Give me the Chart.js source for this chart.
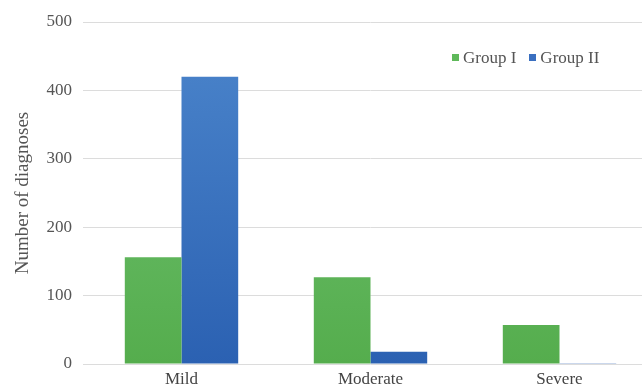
<!DOCTYPE html>
<html lang="en">
<head>
  <meta charset="UTF-8" />
  <title>Number of diagnoses</title>
  <script src="https://cdn.jsdelivr.net/npm/chart.js"></script>
  <style>
    html, body { margin: 0; padding: 0; background: #fff; overflow: hidden; }
    .wrap { position: relative; width: 656px; height: 390px; }
    .legend { position: absolute; left: 452px; top: 48px; font-family: "Liberation Serif", serif; font-size: 17px; color: #555; white-space: nowrap; }
    .legend span.box { display: inline-block; width: 7px; height: 7px; margin-right: 4px; vertical-align: 2px; }
    .legend .item { margin-right: 13px; }
  </style>
</head>
<body>

<div class="wrap">
  <canvas id="chart"></canvas>
  <div class="legend">
    <span class="item"><span class="box" style="background:#5fb95a"></span>Group I</span><span class="item"><span class="box" style="background:#3a6fc0"></span>Group II</span>
  </div>
</div>

<script>
  const categories = ["Mild", "Moderate", "Severe"];
  const group1 = [156, 127, 57];
  const group2 = [420, 18, 1];
  const yTicks = [0, 100, 200, 300, 400, 500];

  function grad(ctx, top, bottom) {
    const area = ctx.chart.chartArea;
    if (!area) return bottom;
    const g = ctx.chart.ctx.createLinearGradient(0, area.top, 0, area.bottom);
    g.addColorStop(0, top);
    g.addColorStop(1, bottom);
    return g;
  }

  const font = { family: "'Liberation Serif', serif", size: 17 };

  new Chart(document.getElementById("chart"), {
    type: "bar",
    data: {
      labels: categories,
      datasets: [
        {
          label: "Group I",
          data: group1,
          backgroundColor: ctx => grad(ctx, "#72c476", "#55ad4d"),
          categoryPercentage: 0.6,
          barPercentage: 1
        },
        {
          label: "Group II",
          data: group2,
          backgroundColor: ctx => grad(ctx, "#4c86cc", "#2b61b2"),
          categoryPercentage: 0.6,
          barPercentage: 1
        }
      ]
    },
    options: {
      responsive: true,
      maintainAspectRatio: false,
      animation: false,
      layout: { padding: { top: 22, right: 2, left: 0, bottom: 0 } },
      plugins: { legend: { display: false }, tooltip: { enabled: false } },
      scales: {
        x: {
          grid: { display: false, tickLength: 0 },
          border: { display: false },
          ticks: { font, color: "#444", padding: 5 },
          afterFit: s => { s.height = 26; }
        },
        y: {
          min: 0,
          max: 500,
          afterBuildTicks: s => { s.ticks = yTicks.map(v => ({ value: v })); },
          grid: { color: "#dcdcdc", tickLength: 4 },
          border: { display: false },
          ticks: { font, color: "#555", padding: 11 },
          title: { display: true, text: "Number of diagnoses", font: { family: "'Liberation Serif', serif", size: 19 }, color: "#555", padding: { top: 12, bottom: 0 } },
          afterFit: s => { s.width = 87; }
        }
      }
    }
  });
</script>

</body>
</html>
